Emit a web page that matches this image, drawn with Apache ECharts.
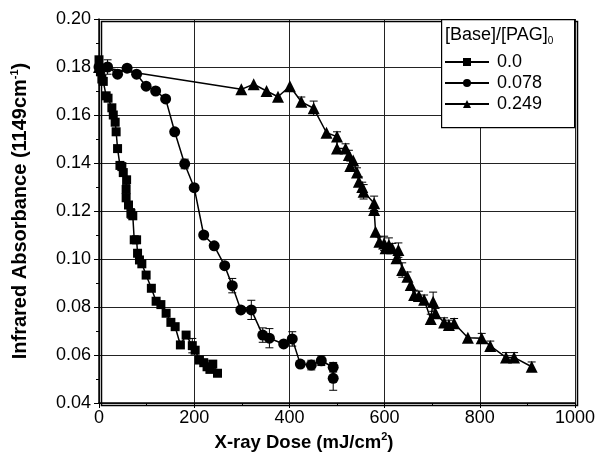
<!DOCTYPE html>
<html>
<head>
<meta charset="utf-8">
<script src="https://cdn.jsdelivr.net/npm/echarts@6/dist/echarts.min.js"></script>
<style>
  html, body { margin: 0; padding: 0; background: #fff; }
  #chart { width: 600px; height: 460px; }
</style>
</head>
<body>
<div id="chart"></div>
<script>
// [dose mJ/cm2, absorbance, error half-height]
const base00 = [
  [0, 0.183, 0], [3, 0.178, 0], [6, 0.175, 0], [9, 0.174, 0], [15, 0.168, 0],
  [19, 0.167, 0], [27, 0.163, 0], [30, 0.160, 0], [34, 0.157, 0], [36, 0.153, 0],
  [39, 0.146, 0], [44, 0.139, 0], [48, 0.1385, 0], [51, 0.136, 0], [58, 0.133, 0],
  [57, 0.129, 0.002], [57, 0.1255, 0], [62, 0.1225, 0], [67, 0.119, 0.002], [71, 0.118, 0],
  [74, 0.108, 0], [79, 0.108, 0], [81, 0.1024, 0], [85, 0.0996, 0], [90, 0.098, 0],
  [99, 0.0933, 0], [110, 0.0878, 0], [120, 0.0824, 0], [130, 0.081, 0], [141, 0.0774, 0],
  [151, 0.0736, 0], [160, 0.0718, 0], [171, 0.0642, 0], [183, 0.0683, 0], [196, 0.0639, 0.003],
  [202, 0.062, 0], [211, 0.0579, 0], [220, 0.0568, 0], [227, 0.0551, 0], [233, 0.054, 0],
  [239, 0.0562, 0], [249, 0.0524, 0]
];
const base078 = [
  [0, 0.180, 0], [18, 0.180, 0.003], [39, 0.177, 0], [59, 0.1795, 0], [79, 0.177, 0],
  [99, 0.172, 0], [119, 0.170, 0], [140, 0.1667, 0], [159, 0.153, 0], [180, 0.1396, 0.002],
  [200, 0.1297, 0], [220, 0.110, 0], [242, 0.1055, 0], [264, 0.0972, 0], [280, 0.0889, 0.003],
  [298, 0.0788, 0], [320, 0.0788, 0.004], [344, 0.0683, 0.003], [358, 0.067, 0.004], [388, 0.0646, 0],
  [406, 0.0667, 0.003], [423, 0.0562, 0], [446, 0.0558, 0.002], [467, 0.0576, 0.002],
  [492, 0.0549, 0.002], [492, 0.0503, 0.005]
];
const base249 = [
  [0, 0.180, 0], [299, 0.1707, 0], [325, 0.1728, 0], [352, 0.170, 0], [376, 0.1676, 0],
  [401, 0.172, 0], [425, 0.1655, 0.002], [451, 0.1628, 0.003], [478, 0.1526, 0], [500, 0.151, 0.002],
  [500, 0.146, 0], [518, 0.146, 0.002], [525, 0.1433, 0.002], [528, 0.1388, 0.002], [534, 0.141, 0],
  [542, 0.136, 0.002], [546, 0.1322, 0.002], [553, 0.130, 0.002], [556, 0.128, 0.003], [578, 0.1232, 0.003],
  [578, 0.1204, 0], [581, 0.1114, 0], [589, 0.1072, 0.002], [599, 0.1065, 0.003], [602, 0.1045, 0.002],
  [609, 0.1058, 0.003], [616, 0.1045, 0.002], [625, 0.1003, 0.002], [629, 0.1037, 0.003], [637, 0.0954, 0.003],
  [648, 0.0926, 0.002], [655, 0.0892, 0], [662, 0.085, 0.002], [672, 0.0846, 0.002], [683, 0.083, 0.002],
  [697, 0.075, 0.002], [702, 0.0822, 0.004], [707, 0.0774, 0.002], [725, 0.0735, 0.002], [735, 0.0725, 0.002],
  [746, 0.0732, 0.002], [775, 0.0672, 0], [804, 0.067, 0.002], [822, 0.0638, 0.002], [855, 0.059, 0.002],
  [872, 0.059, 0.002], [909, 0.0551, 0.002]
];

const legendTitle = '[Base]/[PAG]';
const seriesNames = ['0.0', '0.078', '0.249'];
const seriesData = [base00, base078, base249];
const symbols = ['rect', 'circle', 'triangle'];
const symbolSizes = [9, 11, 12];

const font = 'Liberation Sans, Arial, sans-serif';

function errorBars(p, api) {
  const x = api.value(0), y = api.value(1), e = api.value(2);
  const top = api.coord([x, y + e]);
  const bot = api.coord([x, y - e]);
  const w = 4;
  const st = { stroke: '#000', lineWidth: 1 };
  return {
    type: 'group',
    children: [
      { type: 'line', shape: { x1: top[0], y1: top[1], x2: bot[0], y2: bot[1] }, style: st },
      { type: 'line', shape: { x1: top[0] - w, y1: top[1], x2: top[0] + w, y2: top[1] }, style: st },
      { type: 'line', shape: { x1: bot[0] - w, y1: bot[1], x2: bot[0] + w, y2: bot[1] }, style: st }
    ]
  };
}

const series = [];
seriesData.forEach((d, i) => {
  series.push({
    name: seriesNames[i],
    type: 'line',
    data: d.map(r => [r[0], r[1]]),
    symbol: symbols[i],
    symbolSize: symbolSizes[i],
    showAllSymbol: true,
    itemStyle: { color: '#000' },
    lineStyle: { color: '#000', width: 1.5 },
    z: 3
  });
  series.push({
    type: 'custom',
    data: d.filter(r => r[2] > 0),
    renderItem: errorBars,
    z: 2,
    silent: true
  });
});

const chart = echarts.init(document.getElementById('chart'));
chart.setOption({
  animation: false,
  backgroundColor: '#fff',
  grid: { left: 99, right: 25, top: 19, bottom: 57 },
  xAxis: {
    type: 'value', min: 0, max: 1000, interval: 200,
    name: '{a|X-ray Dose (mJ/cm}{s|2}{a|)}',
    nameLocation: 'middle', nameGap: 25,
    nameTextStyle: {
      padding: [0, 66, 0, 0],
      rich: {
        a: { fontFamily: font, fontSize: 18.5, fontWeight: 'bold', color: '#000' },
        s: { fontFamily: font, fontSize: 11, fontWeight: 'bold', color: '#000', padding: [0, 0, 11, 0] }
      }
    },
    axisLine: { onZero: false, lineStyle: { color: '#000', width: 1.5 } },
    axisTick: { inside: false, length: 5, lineStyle: { color: '#000' } },
    minorTick: { show: true, splitNumber: 2, length: 3, lineStyle: { color: '#000' } },
    axisLabel: { fontFamily: font, fontSize: 18, color: '#000', margin: 6, formatter: v => String(v) },
    splitLine: { show: true, lineStyle: { color: '#222', width: 1 } }
  },
  yAxis: {
    type: 'value', min: 0.04, max: 0.20, interval: 0.02,
    name: '{a|Infrared Absorbance (1149cm}{s|-1}{a|)}',
    nameLocation: 'middle', nameGap: 68,
    nameTextStyle: {
      rich: {
        a: { fontFamily: font, fontSize: 20, fontWeight: 'bold', color: '#000' },
        s: { fontFamily: font, fontSize: 11, fontWeight: 'bold', color: '#000', padding: [0, 0, 11, 0] }
      }
    },
    axisLine: { onZero: false, lineStyle: { color: '#000', width: 1.5 } },
    axisTick: { inside: false, length: 5, lineStyle: { color: '#000' } },
    minorTick: { show: true, splitNumber: 2, length: 3, lineStyle: { color: '#000' } },
    axisLabel: { fontFamily: font, fontSize: 18, color: '#000', margin: 8, formatter: v => v.toFixed(2) },
    splitLine: { show: true, lineStyle: { color: '#222', width: 1 } }
  },
  legend: {
    data: seriesNames,
    orient: 'vertical',
    left: 444, top: 53,
    padding: 0,
    z: 20,
    itemWidth: 44, itemHeight: 10, itemGap: 3,
    textStyle: { fontFamily: font, fontSize: 18, color: '#000', padding: [0, 0, 0, 3] },
    backgroundColor: 'transparent'
  },
  graphic: [
    {
      type: 'rect', left: 99, top: 19, z: 1, silent: true,
      shape: { width: 476, height: 384 },
      style: { fill: 'none', stroke: '#000', lineWidth: 1.5 }
    },
    {
      type: 'rect', left: 441, top: 19, z: 10,
      shape: { width: 133, height: 108 },
      style: { fill: '#fff', stroke: '#000', lineWidth: 1.2 }
    },
    {
      type: 'text', left: 445, top: 26, z: 11,
      style: {
        text: '{a|' + legendTitle + '}{s|0}',
        rich: {
          a: { fontFamily: font, fontSize: 18, fill: '#000' },
          s: { fontFamily: font, fontSize: 10, fill: '#000', padding: [12, 0, 0, 0] }
        }
      }
    }
  ],
  series: series
});
</script>
</body>
</html>
